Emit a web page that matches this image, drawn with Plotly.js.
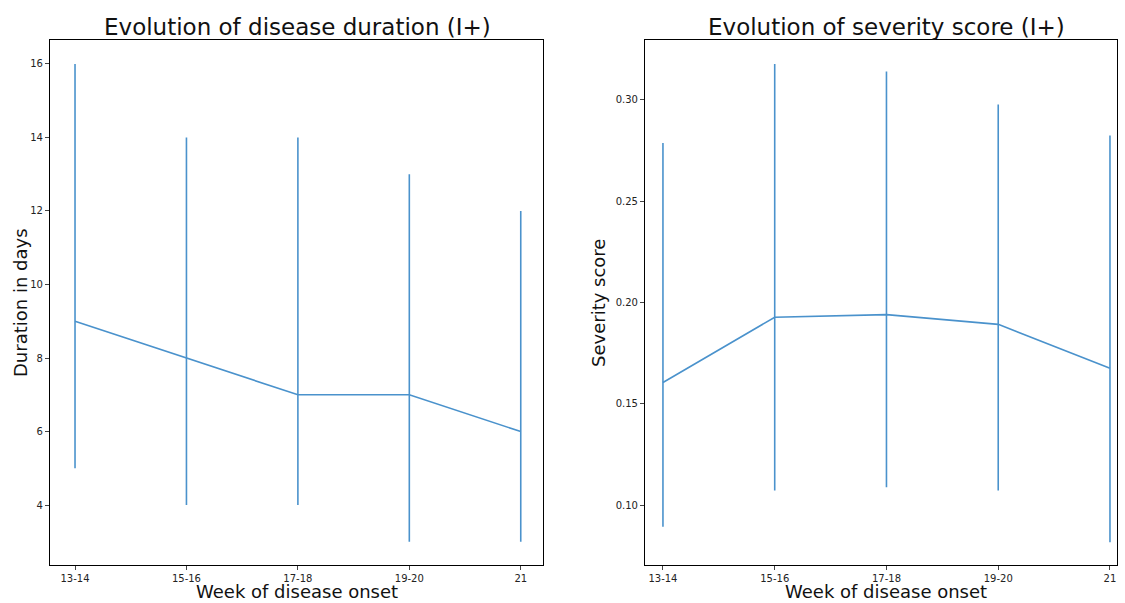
<html><head><script src="https://cdn.plot.ly/plotly-3.0.1.min.js"></script>
<style>body{margin:0;background:#fff}</style></head><body>
<div id="c" style="width:1125px;height:603px"></div>
<script>
var weeks = ['13-14', '15-16', '17-18', '19-20', '21'];
var durMean = [9, 8, 7, 7, 6];
var durLow = [5, 4, 4, 3, 3];
var durHigh = [16, 14, 14, 13, 12];
var sevMean = [0.1605, 0.1927, 0.1940, 0.1892, 0.1675];
var sevLow = [0.0893, 0.1072, 0.1088, 0.1072, 0.0816];
var sevHigh = [0.2788, 0.3178, 0.3141, 0.2978, 0.2825];

var col = '#4a92cc';
var idx = weeks.map(function (w, i) { return i; });
function trace(mean, low, high, xa, ya) {
  return {
    x: idx, y: mean, xaxis: xa, yaxis: ya, mode: 'lines', type: 'scatter',
    line: { color: col, width: 1.6 },
    error_y: {
      type: 'data', symmetric: false,
      array: high.map(function (h, i) { return h - mean[i]; }),
      arrayminus: low.map(function (l, i) { return mean[i] - l; }),
      color: col, thickness: 1.6, width: 0
    }
  };
}
var axBase = {
  showgrid: false, zeroline: false, showline: true, mirror: true, linecolor: '#000', linewidth: 1,
  ticks: 'outside', ticklen: 4, tickfont: { size: 10, color: '#222' }
};
function ax(extra) { return Object.assign({}, axBase, extra); }
var font = { family: 'DejaVu Sans', color: '#111' };
function lab(text, px, py, size, angle) {
  return { text: text, x: px / 1125, y: 1 - py / 603, xref: 'paper', yref: 'paper', showarrow: false,
    xanchor: 'center', yanchor: 'middle', textangle: angle || 0, font: Object.assign({ size: size }, font) };
}
var layout = {
  width: 1125, height: 603, margin: { l: 0, r: 0, t: 0, b: 0 },
  showlegend: false, font: { family: 'DejaVu Sans' },
  xaxis: ax({ domain: [0.0444, 0.4827], range: [-0.225, 4.2], tickvals: idx, ticktext: weeks }),
  yaxis: ax({ domain: [0.063, 0.9337], range: [2.37, 16.65], tickvals: [4, 6, 8, 10, 12, 14, 16] }),
  xaxis2: ax({ domain: [0.5733, 0.9929], range: [-0.161, 4.063], tickvals: idx, ticktext: weeks, anchor: 'y2' }),
  yaxis2: ax({ domain: [0.063, 0.9337], range: [0.0704, 0.3296], tickvals: [0.10, 0.15, 0.20, 0.25, 0.30], tickformat: '.2f', anchor: 'x2' }),
  annotations: [
    lab('Evolution of disease duration (I+)', 297, 27, 23),
    lab('Evolution of severity score (I+)', 886, 27, 23),
    lab('Week of disease onset', 297, 591, 18),
    lab('Week of disease onset', 886, 591, 18),
    lab('Duration in days', 20, 303, 18, -90),
    lab('Severity score', 598, 303, 18, -90)
  ]
};
Plotly.newPlot('c', [trace(durMean, durLow, durHigh, 'x', 'y'), trace(sevMean, sevLow, sevHigh, 'x2', 'y2')], layout, { displayModeBar: false });
</script></body></html>
